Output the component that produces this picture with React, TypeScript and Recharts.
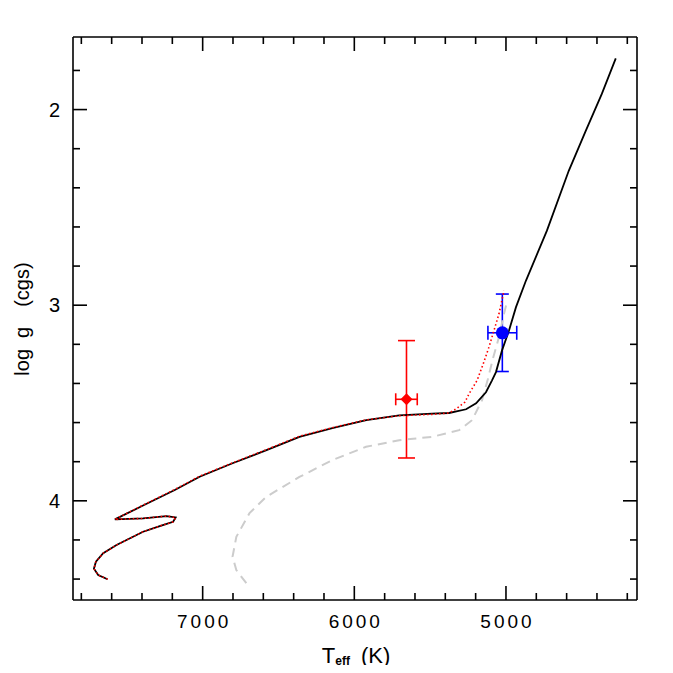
import React from 'react';
import { ScatterChart, Scatter, XAxis, YAxis, ErrorBar } from 'recharts';

// ---- tick values ----
const teffTicks = [4200, 4400, 4600, 4800, 5000, 5200, 5400, 5600, 5800, 6000, 6200, 6400, 6600, 6800, 7000, 7200, 7400, 7600, 7800];
const loggTicks = [1.8, 2.0, 2.2, 2.4, 2.6, 2.8, 3.0, 3.2, 3.4, 3.6, 3.8, 4.0, 4.2, 4.4];
const teffDomain = [4136, 7855];
const loggDomain = [1.629, 4.507];

// ---- black solid track ----
const blackTeff = [7627, 7689, 7717, 7704, 7656, 7568, 7393, 7283, 7195, 7178, 7239, 7393, 7579, 7393, 7184, 7020, 6803, 6579, 6362, 6145, 5921, 5704, 5487, 5375, 5263, 5197, 5132, 5092, 5066, 5026, 4980, 4934, 4868, 4730, 4586, 4474, 4368, 4276];
const blackLogg = [4.401, 4.379, 4.347, 4.311, 4.268, 4.226, 4.158, 4.129, 4.107, 4.085, 4.078, 4.090, 4.095, 4.024, 3.945, 3.877, 3.808, 3.741, 3.673, 3.628, 3.588, 3.563, 3.554, 3.551, 3.532, 3.502, 3.445, 3.384, 3.342, 3.231, 3.129, 3.010, 2.874, 2.619, 2.313, 2.109, 1.920, 1.738];

// ---- red dotted track ----
const redTeff = [7627, 7689, 7717, 7704, 7656, 7568, 7393, 7283, 7195, 7178, 7239, 7393, 7579, 7393, 7184, 7020, 6803, 6579, 6362, 6145, 5921, 5704, 5487, 5375, 5329, 5270, 5243, 5190, 5150, 5112, 5079, 5046, 5013];
const redLogg = [4.401, 4.379, 4.347, 4.311, 4.268, 4.226, 4.158, 4.129, 4.107, 4.085, 4.078, 4.090, 4.095, 4.022, 3.942, 3.874, 3.806, 3.738, 3.670, 3.626, 3.586, 3.565, 3.558, 3.551, 3.530, 3.495, 3.452, 3.384, 3.300, 3.214, 3.129, 3.044, 2.925];

// ---- grey dashed track ----
const greyTeff = [6712, 6778, 6803, 6778, 6691, 6581, 6362, 6145, 5923, 5704, 5487, 5309, 5224, 5158, 5120, 5085, 5046, 5015, 4991];
const greyLogg = [4.421, 4.354, 4.286, 4.184, 4.063, 3.980, 3.878, 3.792, 3.724, 3.690, 3.673, 3.639, 3.588, 3.486, 3.380, 3.270, 3.163, 3.050, 2.976];

// ---- observed stars ----
const redStar = [{ T: 5656, g: 3.481, tErr: 71, gErr: 0.3 }];
const blueStar = [{ T: 5024, g: 3.141, tErr: 95, gErr: 0.198 }];

const zip = (ts: number[], gs: number[]) => ts.map((T, i) => ({ T, g: gs[i] }));
const blackData = zip(blackTeff, blackLogg);
const redData = zip(redTeff, redLogg);
const greyData = zip(greyTeff, greyLogg);

const FONT = '"Liberation Sans", Arial, Helvetica, sans-serif';
const AX = { stroke: '#000', strokeWidth: 1.6 };

const isMajorT = (v: number) => v % 1000 === 0;
const isMajorG = (v: number) => Math.abs(v - Math.round(v)) < 1e-6;

const BottomTick = (props: any) => {
  const { x, y, payload } = props;
  const v = payload.value;
  const major = isMajorT(v);
  return (
    <g>
      <line x1={x} x2={x} y1={y} y2={y - (major ? 14 : 7)} stroke="#000" strokeWidth={1.6} />
      {major && (
        <text x={x + 1.5} y={y + 28} textAnchor="middle" fontSize={19} letterSpacing={3} fontFamily={FONT} fill="#000">
          {v}
        </text>
      )}
    </g>
  );
};

const TopTick = (props: any) => {
  const { x, y, payload } = props;
  const major = isMajorT(payload.value);
  return <line x1={x} x2={x} y1={y} y2={y + (major ? 14 : 7)} stroke="#000" strokeWidth={1.6} />;
};

const LeftTick = (props: any) => {
  const { x, y, payload } = props;
  const v = payload.value;
  const major = isMajorG(v);
  return (
    <g>
      <line x1={x} x2={x + (major ? 14 : 7)} y1={y} y2={y} stroke="#000" strokeWidth={1.6} />
      {major && (
        <text x={x - 13} y={y + 7} textAnchor="end" fontSize={20} fontFamily={FONT} fill="#000">
          {Math.round(v)}
        </text>
      )}
    </g>
  );
};

const RightTick = (props: any) => {
  const { x, y, payload } = props;
  const major = isMajorG(payload.value);
  return <line x1={x} x2={x - (major ? 14 : 7)} y1={y} y2={y} stroke="#000" strokeWidth={1.6} />;
};

const XLabel = (props: any) => {
  const vb = props.viewBox;
  const cx = vb.x + vb.width / 2 + 1;
  const by = vb.y + 63;
  return (
    <text x={cx} y={by} textAnchor="middle" fontFamily={FONT} fill="#000" fontSize={22}>
      <tspan>T</tspan>
      <tspan fontSize={12} fontWeight="bold" dy={2}>eff</tspan>
      <tspan dy={-2} dx={11}>(K)</tspan>
    </text>
  );
};

const YLabel = (props: any) => {
  const vb = props.viewBox;
  const bx = vb.x + 1;
  const cy = 311;
  return (
    <text x={bx} y={cy} transform={`rotate(-90, ${bx}, ${cy})`} textAnchor="middle" fontFamily={FONT} fill="#000" fontSize={20}>
      <tspan>log</tspan>
      <tspan dx={11}>g</tspan>
      <tspan dx={20}>(cgs)</tspan>
    </text>
  );
};

const NoShape = () => <g />;

const Diamond = (props: any) => {
  const { cx, cy } = props;
  const r = 6;
  return <polygon points={`${cx},${cy - r} ${cx + r},${cy} ${cx},${cy + r} ${cx - r},${cy}`} fill="#ff0000" />;
};

const Dot = (props: any) => {
  const { cx, cy } = props;
  return <circle cx={cx} cy={cy} r={6.5} fill="#0000ff" />;
};

export default function App() {
  return (
    <div style={{ width: 657, height: 657 }}>
      <ScatterChart width={657} height={665} margin={{ top: 28, right: 27, bottom: 16, left: 20 }}>
        <XAxis
          xAxisId={0}
          dataKey="T"
          type="number"
          domain={teffDomain}
          reversed
          allowDataOverflow
          ticks={teffTicks}
          interval={0}
          tickSize={0}
          tickMargin={0}
          tick={BottomTick}
          axisLine={AX}
          height={57}
          label={{ content: XLabel }}
        />
        <XAxis
          xAxisId="top"
          orientation="top"
          dataKey="T"
          type="number"
          domain={teffDomain}
          reversed
          allowDataOverflow
          ticks={teffTicks}
          interval={0}
          tickSize={0}
          tickMargin={0}
          tick={TopTick}
          axisLine={AX}
          height={1}
        />
        <YAxis
          yAxisId={0}
          dataKey="g"
          type="number"
          domain={loggDomain}
          reversed
          allowDataOverflow
          ticks={loggTicks}
          interval={0}
          tickSize={0}
          tickMargin={0}
          tick={LeftTick}
          axisLine={AX}
          width={45}
          label={{ content: YLabel }}
        />
        <YAxis
          yAxisId="right"
          orientation="right"
          dataKey="g"
          type="number"
          domain={loggDomain}
          reversed
          allowDataOverflow
          ticks={loggTicks}
          interval={0}
          tickSize={0}
          tickMargin={0}
          tick={RightTick}
          axisLine={AX}
          width={1}
        />
        <Scatter xAxisId="top" yAxisId="right" data={blackData} shape={NoShape} isAnimationActive={false} />
        <Scatter data={greyData} line={{ stroke: '#cccccc', strokeWidth: 2, strokeDasharray: '9 6' }} shape={NoShape} isAnimationActive={false} />
        <Scatter data={blackData} line={{ stroke: '#000000', strokeWidth: 1.8 }} shape={NoShape} isAnimationActive={false} />
        <Scatter data={redData} line={{ stroke: '#ff0000', strokeWidth: 1.6, strokeDasharray: '1.5 2.5' }} shape={NoShape} isAnimationActive={false} />
        <Scatter data={redStar} shape={Diamond} isAnimationActive={false}>
          <ErrorBar dataKey="gErr" direction="y" width={8.5} stroke="#ff0000" strokeWidth={1.6} isAnimationActive={false} />
          <ErrorBar dataKey="tErr" direction="x" width={6} stroke="#ff0000" strokeWidth={1.6} isAnimationActive={false} />
        </Scatter>
        <Scatter data={blueStar} shape={Dot} isAnimationActive={false}>
          <ErrorBar dataKey="gErr" direction="y" width={6.5} stroke="#0000ff" strokeWidth={1.6} isAnimationActive={false} />
          <ErrorBar dataKey="tErr" direction="x" width={7} stroke="#0000ff" strokeWidth={1.6} isAnimationActive={false} />
        </Scatter>
      </ScatterChart>
    </div>
  );
}
